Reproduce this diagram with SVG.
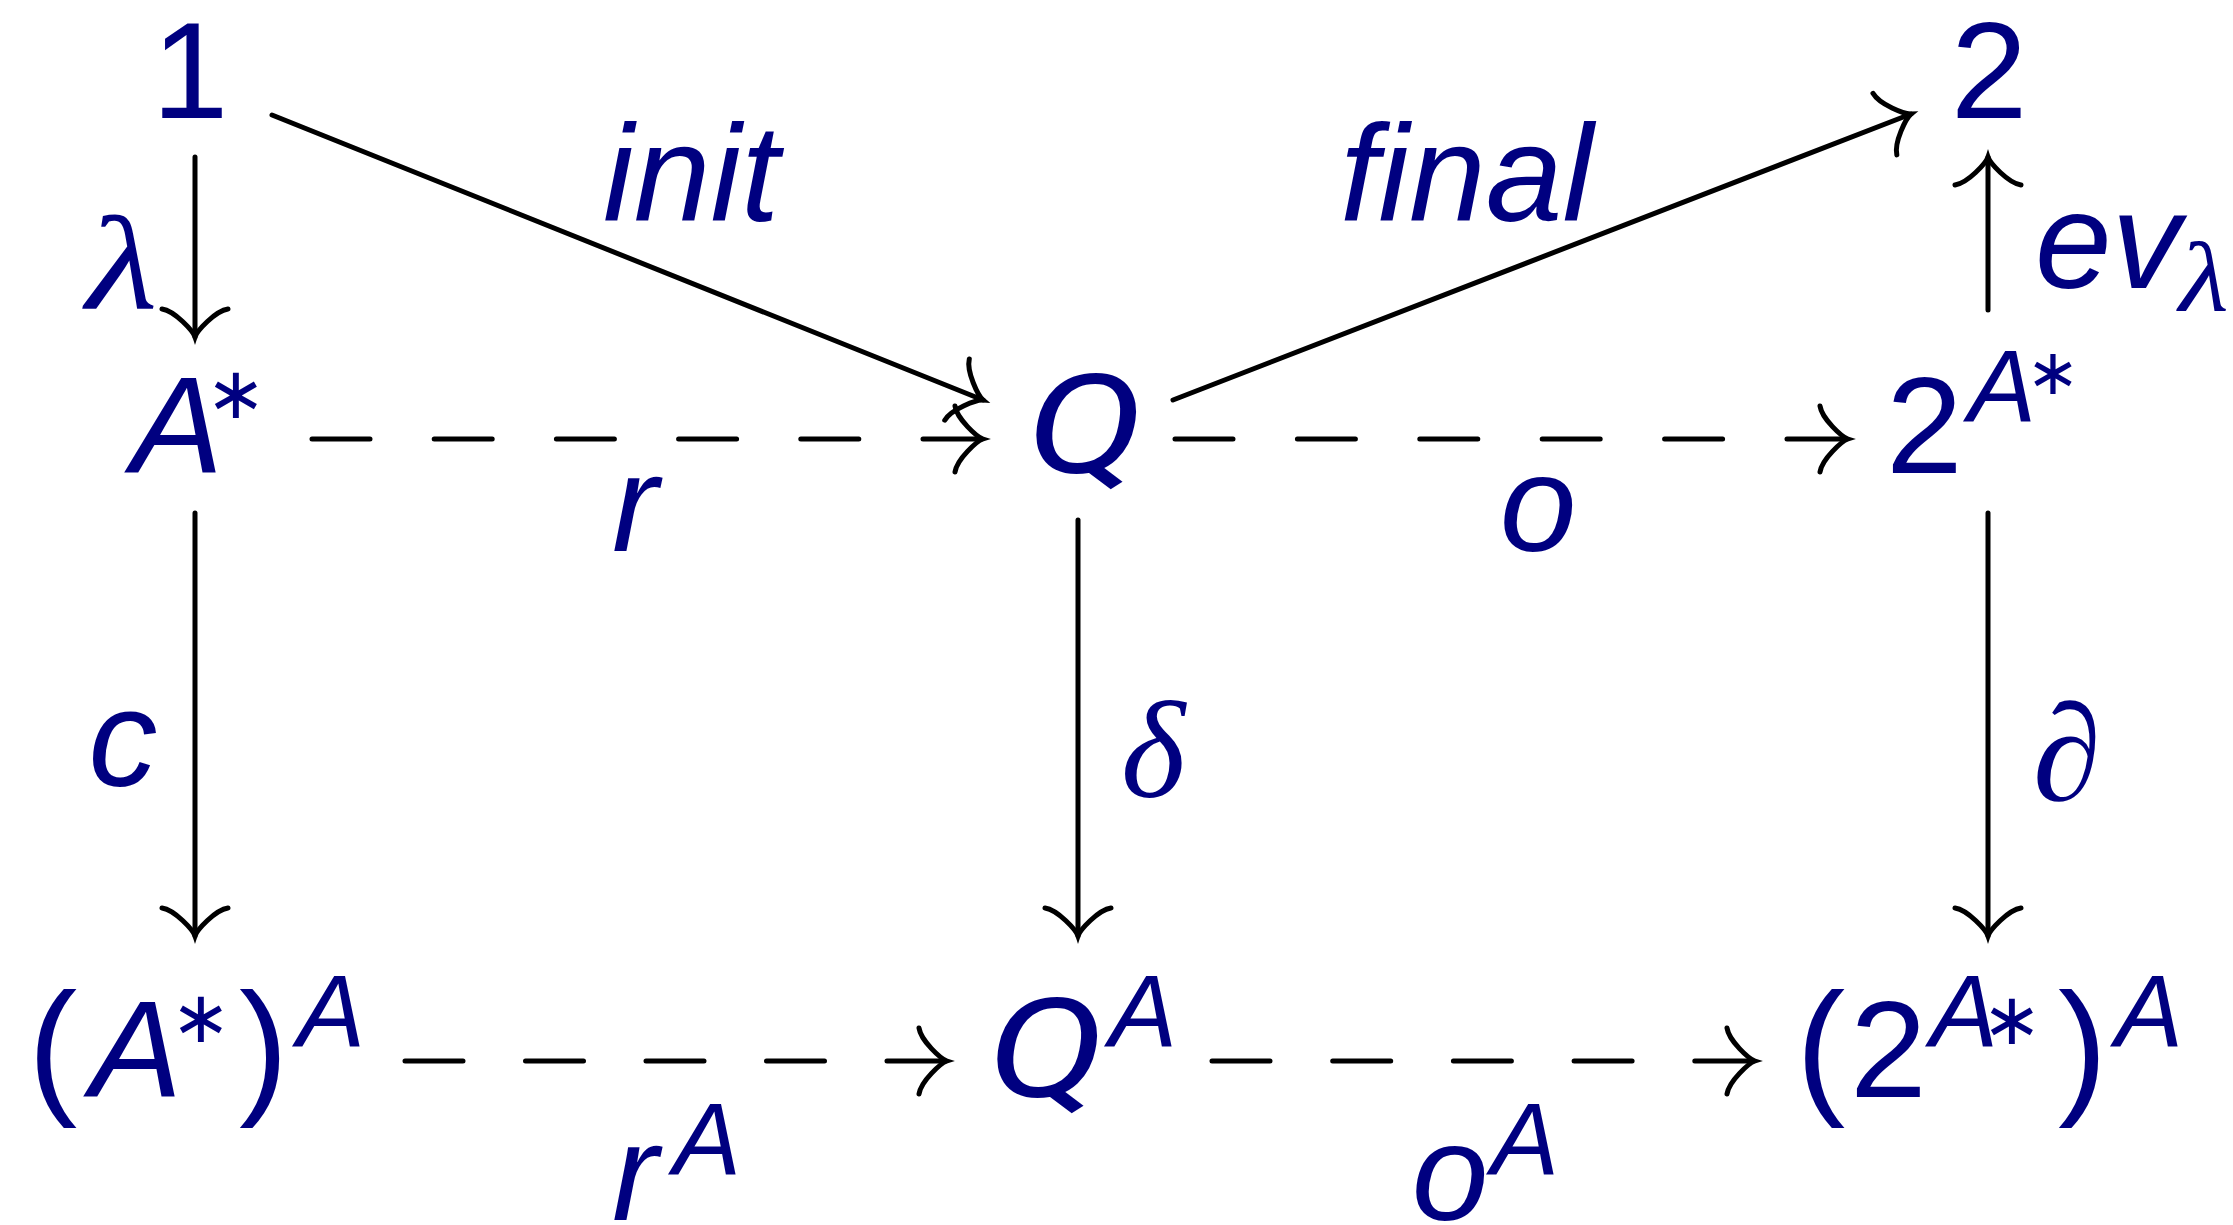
<svg xmlns="http://www.w3.org/2000/svg" width="2233" height="1225" viewBox="0 0 2233 1225">
<style>
.t{font-family:"Liberation Sans",Arial,sans-serif;fill:#000080;font-size:138px}
.i{font-style:italic}
.s{font-size:102px}
.p{font-size:148px}
.q{font-family:Roboto,"Liberation Sans",sans-serif}
.a{font-family:"DejaVu Sans",sans-serif;font-size:72px;text-anchor:middle}
.g{font-family:"Liberation Serif","DejaVu Serif",serif;font-style:italic}
.m{text-anchor:middle}
.c{fill:none;stroke:#000;stroke-width:5;stroke-linecap:round}
</style>
<defs>
<marker id="to" markerUnits="userSpaceOnUse" orient="auto" refX="0" refY="0" markerWidth="80" markerHeight="80" viewBox="-40 -40 80 80" overflow="visible">
<path d="M -28,-33 C -26,-20 -6,-2 0,0 C -6,2 -26,20 -28,33" fill="none" stroke="#000" stroke-width="5" stroke-linecap="round"/>
</marker>
</defs>
<rect width="2233" height="1225" fill="#fff"/>
<g id="connectors">
<line class="c" x1="195" y1="157" x2="195" y2="337" marker-end="url(#to)"/>
<line class="c" x1="195" y1="513" x2="195" y2="936" marker-end="url(#to)"/>
<line class="c" x1="1078" y1="520" x2="1078" y2="936" marker-end="url(#to)"/>
<line class="c" x1="1988" y1="513" x2="1988" y2="936" marker-end="url(#to)"/>
<line class="c" x1="1988" y1="310" x2="1988" y2="157" marker-end="url(#to)"/>
<line class="c" x1="272" y1="115" x2="983" y2="400" marker-end="url(#to)"/>
<line class="c" x1="1173" y1="400" x2="1911" y2="114" marker-end="url(#to)"/>
<line class="c" x1="312" y1="439" x2="983" y2="439" stroke-dasharray="58 64.2" marker-end="url(#to)"/>
<line class="c" x1="1175" y1="439" x2="1848" y2="439" stroke-dasharray="58 64.4" marker-end="url(#to)"/>
<line class="c" x1="405" y1="1061" x2="947" y2="1061" stroke-dasharray="58 62.5" marker-end="url(#to)"/>
<line class="c" x1="1212" y1="1061" x2="1755" y2="1061" stroke-dasharray="58 62.7" marker-end="url(#to)"/>
</g>
<g id="labels">
<text class="t i" x="603" y="221">init</text>
<text class="t i" x="1340" y="221">final</text>
<text class="t g m" transform="translate(122,309) scale(1.23,1)" style="font-size:134px">λ</text>
<text class="t i" x="2035" y="288">ev</text>
<text class="t g m" transform="translate(2204,311) scale(1.15,1)" style="font-size:100px">λ</text>
<text class="t i" x="612" y="551">r</text>
<text class="t i m" x="1538" y="551">o</text>
<text class="t i m" x="123" y="786">c</text>
<text class="t g m" x="1153" y="797">δ</text>
<text class="t g m" x="2067" y="800">∂</text>
<text class="t i" x="612" y="1220">r</text>
<text class="t i s" x="673" y="1175">A</text>
<text class="t i m" x="1450" y="1220">o</text>
<text class="t i s" x="1491" y="1175">A</text>
</g>
<g id="n-one"><text class="t m" x="190" y="118">1</text></g>
<g id="n-two"><text class="t m" x="1989" y="118">2</text></g>
<g id="n-astar"><text class="t i" x="131" y="473">A</text><text class="t a" x="236" y="418">∗</text></g>
<g id="n-q"><text class="t i q m" transform="translate(1085,473) scale(1.27,1)">Q</text></g>
<g id="n-2astar"><text class="t" x="1886" y="473">2</text><text class="t i s" x="1968" y="422">A</text><text class="t a" x="2053" y="394" style="font-size:64px">∗</text></g>
<g id="n-astarA"><text class="t p" x="28" y="1097">(</text><text class="t i" x="90" y="1097">A</text><text class="t a" x="201" y="1042">∗</text><text class="t p" x="239" y="1097">)</text><text class="t i s" x="297" y="1047">A</text></g>
<g id="n-qA"><text class="t i q m" transform="translate(1046,1097) scale(1.27,1)">Q</text><text class="t i s" x="1109" y="1047">A</text></g>
<g id="n-2astarA"><text class="t p" x="1796" y="1097">(</text><text class="t" x="1850" y="1097">2</text><text class="t i s" x="1930" y="1047">A</text><text class="t a" x="2012" y="1044">∗</text><text class="t p" x="2058" y="1097">)</text><text class="t i s" x="2115" y="1047">A</text></g>
</svg>
